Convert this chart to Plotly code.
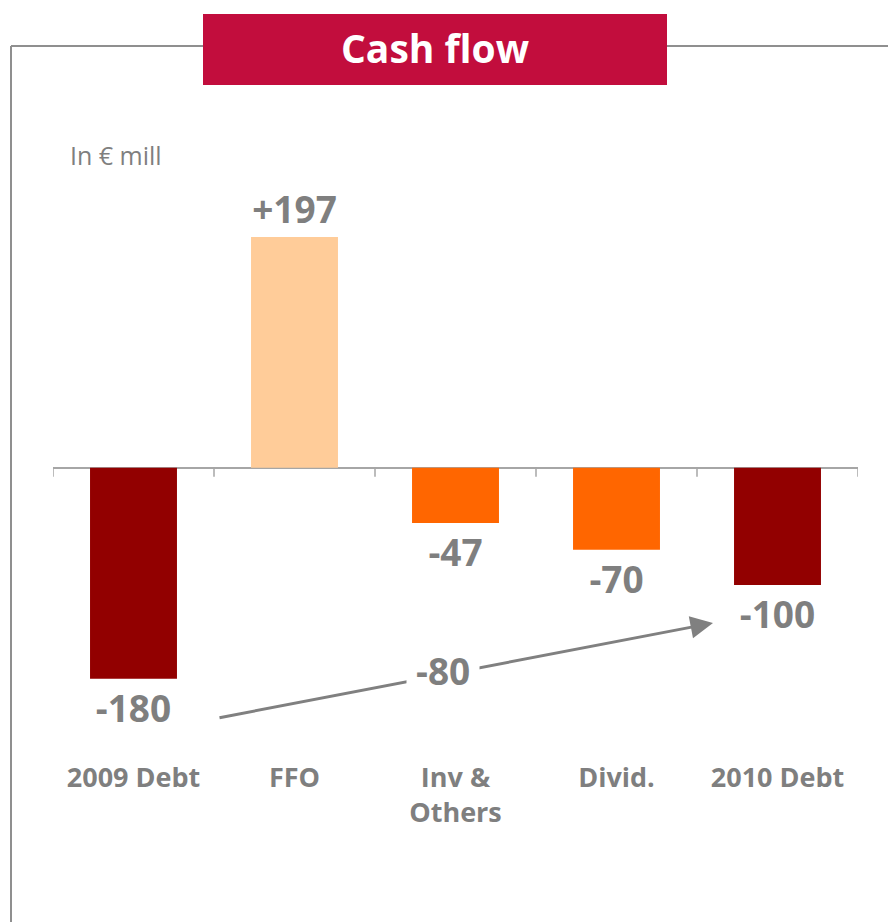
import plotly.graph_objects as go

# ---------------- data ----------------
categories = ["2009 Debt", "FFO", "Inv &<br>Others", "Divid.", "2010 Debt"]
values = [-180, 197, -47, -70, -100]
bar_colors = ["#920000", "#FFCC99", "#FF6600", "#FF6600", "#920000"]
value_labels = [f"{v:+d}" for v in values]
net_change_label = f"{values[0] - values[-1]:d}"   # -80
unit_label = "In € mill"
title_text = "Cash flow"

# ---------------- layout geometry ----------------
OFF = 8                 # page body margin
W, H = 896 - OFF, 922 - OFF
L, R = 53 - OFF, 38
T = 175 - OFF
PH = 574
B = H - T - PH
PW = W - L - R
Y_MIN, Y_MAX = -240, 250

GRAY = "#7f7f7f"
LINE_GRAY = "#a6a6a6"
FONT = "Open Sans"


def px_x(px):
    """screen pixel x -> paper fraction"""
    return (px - OFF - L) / PW


def px_y(py):
    """screen pixel y -> paper fraction"""
    return (T + PH - (py - OFF)) / PH


fig = go.Figure()
fig.add_trace(go.Bar(
    x=categories,
    y=values,
    width=0.54,
    marker=dict(color=bar_colors, line=dict(width=0)),
    text=value_labels,
    textposition="outside",
    constraintext="none",
    cliponaxis=False,
    textfont=dict(family=FONT, size=37, color=GRAY, weight="bold"),
    hoverinfo="skip",
))

shapes = []
# frame around the panel
shapes.append(dict(type="line", xref="paper", yref="paper",
                   x0=px_x(11), y0=px_y(46), x1=px_x(905), y1=px_y(46),
                   line=dict(color="#8f8f8f", width=2)))
shapes.append(dict(type="line", xref="paper", yref="paper",
                   x0=px_x(11), y0=px_y(46), x1=px_x(11), y1=px_y(935),
                   line=dict(color="#8f8f8f", width=2)))
# title box
shapes.append(dict(type="rect", xref="paper", yref="paper",
                   x0=px_x(203), y0=px_y(85), x1=px_x(667), y1=px_y(14),
                   fillcolor="#C20D3D", line=dict(width=0), layer="above"))
# category boundary ticks hanging from the zero line
for i in range(len(categories) + 1):
    shapes.append(dict(type="line", xref="x", yref="y",
                       x0=i - 0.5, x1=i - 0.5, y0=0, y1=-9,
                       ysizemode="pixel", yanchor=0,
                       line=dict(color=LINE_GRAY, width=1.5)))

annotations = [
    dict(text=title_text, xref="paper", yref="paper",
         x=px_x(435), y=px_y(48), xanchor="center", yanchor="middle",
         showarrow=False, font=dict(family=FONT, size=39, color="white", weight="bold")),
    dict(text=unit_label, xref="paper", yref="paper",
         x=px_x(68), y=px_y(155), xanchor="left", yanchor="middle",
         showarrow=False, font=dict(family=FONT, size=25, color=GRAY)),
    # arrow from 2009 debt to 2010 debt
    dict(text="", xref="paper", yref="paper",
         x=px_x(713), y=px_y(623), ax=218 - 713, ay=718 - 623,
         axref="pixel", ayref="pixel",
         showarrow=True, arrowhead=2, arrowsize=1.5, arrowwidth=3,
         arrowcolor="#808080", standoff=0, startstandoff=0),
    dict(text=net_change_label, xref="paper", yref="paper",
         x=px_x(443), y=px_y(670), xanchor="center", yanchor="middle",
         showarrow=False, bgcolor="white", borderpad=9,
         font=dict(family=FONT, size=37, color=GRAY, weight="bold")),
]

fig.update_layout(
    width=W, height=H,
    margin=dict(l=L, r=R, t=T, b=B, pad=0),
    paper_bgcolor="white", plot_bgcolor="white",
    showlegend=False,
    shapes=shapes,
    annotations=annotations,
    xaxis=dict(
        type="category", range=[-0.5, len(categories) - 0.5],
        showgrid=False, zeroline=False, showline=False, ticks="",
        ticklabelstandoff=10,
        tickfont=dict(family=FONT, size=27, color=GRAY, weight="bold"),
        fixedrange=True,
    ),
    yaxis=dict(
        range=[Y_MIN, Y_MAX], showgrid=False, showticklabels=False, ticks="",
        zeroline=True, zerolinecolor=LINE_GRAY, zerolinewidth=2,
        showline=False, fixedrange=True,
    ),
)

fig.write_html("out.html")
